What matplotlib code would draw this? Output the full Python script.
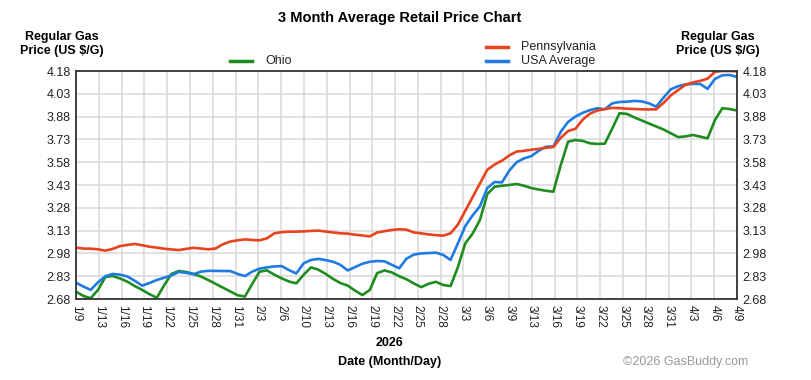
import numpy as np
import matplotlib
matplotlib.use("Agg")
import matplotlib.pyplot as plt

plt.rcParams['font.family'] = ['Liberation Sans', 'DejaVu Sans']

# --- data (daily values, 1/9 .. 4/9) ---
ohio = [2.728, 2.700, 2.685, 2.740, 2.825, 2.831, 2.815, 2.794, 2.765, 2.740,
        2.712, 2.688, 2.770, 2.845, 2.864, 2.858, 2.845, 2.828, 2.805, 2.780,
        2.755, 2.730, 2.705, 2.696, 2.780, 2.860, 2.868, 2.840, 2.816, 2.795,
        2.783, 2.840, 2.888, 2.873, 2.845, 2.812, 2.785, 2.768, 2.735, 2.706,
        2.739, 2.850, 2.868, 2.855, 2.830, 2.810, 2.782, 2.758, 2.780, 2.793,
        2.772, 2.765, 2.890, 3.046, 3.110, 3.200, 3.370, 3.419, 3.425, 3.430,
        3.437, 3.425, 3.410, 3.400, 3.392, 3.386, 3.560, 3.715, 3.726, 3.720,
        3.704, 3.700, 3.702, 3.800, 3.902, 3.898, 3.875, 3.855, 3.835, 3.815,
        3.795, 3.770, 3.745, 3.750, 3.759, 3.748, 3.737, 3.858, 3.935, 3.930,
        3.920]

pennsylvania = [3.018, 3.012, 3.011, 3.007, 2.998, 3.010, 3.028, 3.036, 3.042, 3.034,
                3.024, 3.018, 3.011, 3.006, 3.002, 3.010, 3.017, 3.012, 3.007, 3.012,
                3.040, 3.058, 3.066, 3.072, 3.068, 3.066, 3.079, 3.112, 3.120, 3.123,
                3.123, 3.125, 3.128, 3.130, 3.124, 3.118, 3.112, 3.110, 3.103, 3.098,
                3.092, 3.118, 3.126, 3.134, 3.139, 3.136, 3.118, 3.112, 3.105, 3.100,
                3.097, 3.112, 3.170, 3.260, 3.350, 3.440, 3.530, 3.565, 3.590, 3.625,
                3.650, 3.655, 3.662, 3.668, 3.675, 3.680, 3.740, 3.785, 3.800, 3.860,
                3.900, 3.920, 3.930, 3.937, 3.936, 3.932, 3.930, 3.928, 3.927, 3.928,
                3.970, 4.020, 4.055, 4.090, 4.105, 4.115, 4.130, 4.175, 4.180, 4.180,
                4.178]

usa = [2.787, 2.762, 2.740, 2.790, 2.830, 2.845, 2.840, 2.828, 2.800, 2.768,
       2.785, 2.805, 2.820, 2.835, 2.858, 2.852, 2.843, 2.860, 2.865, 2.865,
       2.864, 2.864, 2.845, 2.831, 2.860, 2.880, 2.888, 2.894, 2.897, 2.870,
       2.848, 2.915, 2.937, 2.944, 2.936, 2.925, 2.905, 2.868, 2.890, 2.912,
       2.925, 2.930, 2.928, 2.905, 2.882, 2.945, 2.972, 2.980, 2.982, 2.985,
       2.970, 2.937, 3.046, 3.160, 3.230, 3.290, 3.410, 3.450, 3.447, 3.525,
       3.580, 3.605, 3.620, 3.655, 3.682, 3.684, 3.780, 3.845, 3.880, 3.905,
       3.923, 3.935, 3.928, 3.967, 3.976, 3.978, 3.983, 3.980, 3.968, 3.945,
       4.005, 4.060, 4.080, 4.092, 4.095, 4.095, 4.062, 4.128, 4.152, 4.154,
       4.141]

date_labels = ['1/9', '1/13', '1/16', '1/19', '1/22', '1/25', '1/28', '1/31',
               '2/3', '2/6', '2/10', '2/13', '2/16', '2/19', '2/22', '2/25',
               '2/28', '3/3', '3/6', '3/9', '3/13', '3/16', '3/19', '3/22',
               '3/25', '3/28', '3/31', '4/3', '4/6', '4/9']

price_ticks = [2.68, 2.83, 2.98, 3.13, 3.28, 3.43, 3.58, 3.73, 3.88, 4.03, 4.18]

days = np.arange(len(ohio))
tick_pos = np.linspace(0, days[-1], len(date_labels))

fig = plt.figure(figsize=(8.11, 3.80), dpi=100)
ax = fig.add_axes([76 / 811, 1 - 299 / 380, 661 / 811, 228 / 380])

lw = 1.9
ax.plot(days, ohio, color='#1f8c1f', lw=lw, solid_joinstyle='round')
ax.plot(days, usa, color='#1f7be2', lw=lw, solid_joinstyle='round')
ax.plot(days, pennsylvania, color='#e8431f', lw=lw, solid_joinstyle='round')

ax.set_xlim(0, days[-1])
ax.set_ylim(2.68, 4.18)
ax.set_xticks(tick_pos)
ax.set_xticklabels(date_labels, rotation=270, fontsize=8.5)
ax.set_yticks(price_ticks)
ax.set_yticklabels(['%.2f' % v for v in price_ticks], fontsize=9)
ax.tick_params(axis='both', length=0, pad=4, colors='#222222')
ax.tick_params(axis='y', right=True, labelright=True)
ax.grid(True, color='#d8d8d8', lw=1.1)
ax.set_axisbelow(True)
for sp in ax.spines.values():
    sp.set_color('#333333')
    sp.set_linewidth(1.3)

# titles / axis captions
fig.text(400 / 811, 1 - 18 / 380, '3 Month Average Retail Price Chart',
         ha='center', va='center', fontsize=10.5, fontweight='bold')
fig.text(62 / 811, 1 - 44 / 380, 'Regular Gas\nPrice (US $/G)', ha='center',
         va='center', fontsize=9, fontweight='bold', linespacing=1.3)
fig.text(718 / 811, 1 - 44 / 380, 'Regular Gas\nPrice (US $/G)', ha='center',
         va='center', fontsize=9, fontweight='bold', linespacing=1.3)
fig.text(390 / 811, 1 - 343 / 380, '2026', ha='center', va='center',
         fontsize=9, fontweight='bold')
fig.text(390 / 811, 1 - 362 / 380, 'Date (Month/Day)', ha='center',
         va='center', fontsize=9, fontweight='bold')
fig.text(748 / 811, 1 - 362 / 380, '\u00a92026 GasBuddy.com', ha='right',
         va='center', fontsize=9, color='#999999')

# legend drawn by hand
def legend_item(x, y, color, label):
    fig.add_artist(plt.Line2D([x / 811, (x + 22) / 811], [1 - y / 380, 1 - y / 380],
                              color=color, lw=2.5))
    fig.text((x + 35) / 811, 1 - y / 380, label, ha='left', va='center',
             fontsize=9, color='#222222')

legend_item(230, 61, '#1f8c1f', 'Ohio')
legend_item(486, 47, '#e8431f', 'Pennsylvania')
legend_item(486, 61, '#1f7be2', 'USA Average')

fig.savefig('out.png', dpi=100)
